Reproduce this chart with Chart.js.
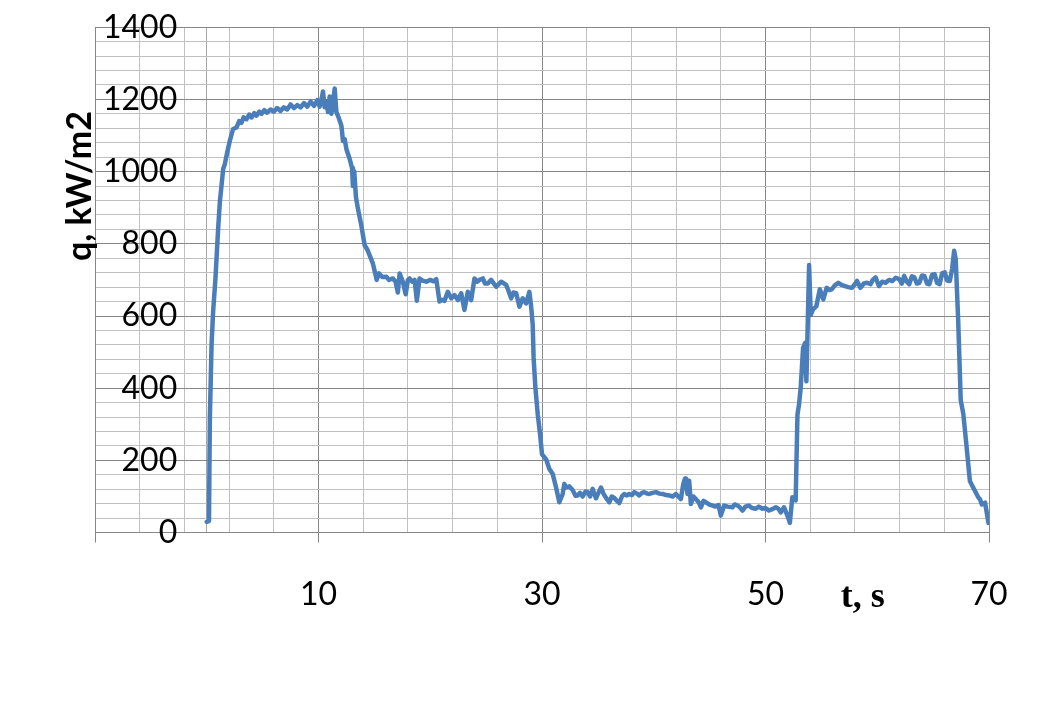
<!DOCTYPE html>
<html>
<head>
<meta charset="utf-8">
<script src="https://cdn.jsdelivr.net/npm/chart.js@4.4.1/dist/chart.umd.min.js"></script>
<style>
  html, body { margin: 0; padding: 0; background: #ffffff; }
</style>
</head>
<body>
<canvas id="myChart" width="1055" height="703"></canvas>
<script>
// t, s
var timeSec = [
  0, 0.2, 0.28, 0.43, 0.57, 0.78, 1.02, 1.17, 1.47, 1.62,
  1.83, 2.06, 2.36, 2.66, 2.9, 3.1, 3.3, 3.56, 3.8, 4.0,
  4.25, 4.45, 4.7, 4.9, 5.15, 5.4, 5.7, 6.0, 6.3, 6.6,
  6.9, 7.2, 7.5, 7.8, 8.1, 8.4, 8.7, 9.0, 9.3, 9.6,
  9.9, 10.1, 10.3, 10.4, 10.55, 10.7, 10.85, 11.0, 11.15, 11.3,
  11.45, 11.6, 11.8, 12.05, 12.19, 12.34, 12.5, 12.79, 13.0, 13.08,
  13.2, 13.35, 13.53, 13.83, 14.13, 14.35, 14.58, 14.87, 15.1, 15.2,
  15.4, 15.7, 16.07, 16.3, 16.66, 16.9, 17.1, 17.26, 17.55, 17.8,
  18.0, 18.15, 18.4, 18.6, 18.8, 19.04, 19.3, 19.64, 20.0, 20.3,
  20.54, 20.83, 21.05, 21.28, 21.57, 21.88, 22.17, 22.47, 22.77, 23.06,
  23.36, 23.66, 23.96, 24.2, 24.4, 24.7, 24.9, 25.15, 25.45, 25.9,
  26.35, 26.79, 27.0, 27.24, 27.45, 27.69, 27.98, 28.27, 28.58, 28.87,
  29.03, 29.17, 29.25, 29.41, 29.62, 29.83, 30.0, 30.37, 30.66, 30.96,
  31.26, 31.55, 31.85, 32.0, 32.15, 32.45, 32.74, 33.0, 33.19, 33.4,
  33.64, 33.9, 34.08, 34.3, 34.53, 34.83, 35.05, 35.28, 35.5, 35.73,
  36.02, 36.25, 36.47, 36.7, 36.92, 37.15, 37.36, 37.6, 37.81, 38.05,
  38.26, 38.5, 38.7, 38.95, 39.15, 39.4, 39.6, 39.9, 40.2, 40.5,
  40.79, 41.1, 41.39, 41.7, 41.98, 42.2, 42.43, 42.64, 42.8, 42.88,
  43.02, 43.17, 43.32, 43.55, 43.77, 44.0, 44.22, 44.45, 44.67, 44.95,
  45.26, 45.5, 45.8, 46.0, 46.3, 46.6, 47.04, 47.25, 47.49, 47.7,
  47.94, 48.2, 48.5, 48.8, 49.13, 49.4, 49.73, 50.0, 50.32, 50.6,
  50.92, 51.15, 51.37, 51.66, 51.96, 52.18, 52.4, 52.7, 52.86, 53.0,
  53.15, 53.36, 53.54, 53.66, 53.9, 54.05, 54.25, 54.55, 54.86, 55.17,
  55.47, 55.7, 55.92, 56.2, 56.52, 56.8, 57.12, 57.4, 57.73, 58.0,
  58.19, 58.49, 58.8, 59.09, 59.4, 59.6, 59.85, 60.15, 60.45, 60.75,
  61.05, 61.36, 61.65, 61.96, 62.2, 62.41, 62.65, 62.86, 63.1, 63.32,
  63.55, 63.77, 64.0, 64.22, 64.45, 64.67, 64.9, 65.13, 65.35, 65.58,
  65.8, 66.04, 66.25, 66.49, 66.7, 66.88, 67.02, 67.24, 67.47, 67.7,
  68.0, 68.29, 68.5, 68.75, 69.05, 69.2, 69.36, 69.65, 69.95
];

// q, kW/m2
var heatFlux = [
  30, 32, 320, 520, 612, 704, 842, 915, 1007, 1021,
  1053, 1085, 1118, 1122, 1140, 1135, 1150, 1145, 1158, 1150,
  1162, 1155, 1166, 1160, 1170, 1163, 1172, 1166, 1176, 1168,
  1178, 1172, 1186, 1176, 1184, 1178, 1190, 1180, 1194, 1182,
  1198, 1180, 1205, 1222, 1178, 1195, 1165, 1208, 1160, 1190,
  1230, 1165, 1150, 1127, 1085, 1090, 1062, 1035, 1010, 960,
  1000, 930, 897, 851, 796, 785, 768, 745, 715, 700,
  718, 708, 709, 700, 704, 695, 665, 718, 695, 660,
  700, 704, 695, 700, 642, 704, 698, 695, 700, 696,
  702, 640, 645, 642, 667, 649, 658, 644, 663, 617,
  667, 644, 704, 695, 700, 704, 690, 690, 700, 681,
  695, 686, 670, 649, 665, 663, 626, 649, 635, 667,
  626, 575, 484, 401, 327, 272, 217, 203, 176, 162,
  125, 84, 107, 135, 125, 128, 118, 102, 103, 110,
  100, 114, 112, 100, 121, 95, 110, 125, 108, 96,
  84, 100, 96, 88, 82, 100, 107, 103, 107, 104,
  112, 108, 103, 110, 112, 108, 107, 110, 112, 108,
  107, 104, 103, 100, 107, 100, 93, 134, 150, 148,
  107, 144, 79, 100, 93, 85, 70, 88, 84, 78,
  75, 72, 76, 47, 75, 72, 70, 78, 75, 70,
  61, 72, 75, 68, 66, 72, 66, 68, 61, 65,
  70, 66, 56, 70, 47, 27, 98, 89, 327, 355,
  401, 511, 525, 419, 741, 603, 618, 627, 674, 646,
  678, 672, 674, 685, 692, 686, 683, 680, 678, 688,
  697, 678, 690, 692, 688, 700, 707, 683, 695, 692,
  700, 697, 706, 702, 690, 711, 695, 688, 710, 707,
  690, 692, 712, 711, 690, 688, 714, 716, 692, 688,
  718, 721, 698, 697, 730, 781, 758, 590, 367, 329,
  236, 143, 130, 115, 97, 92, 78, 83, 27
];

var xLabelTicks = [10, 30, 50, 70];
var yLabelTicks = [0, 200, 400, 600, 800, 1000, 1200, 1400];
var yTitle = 'q, kW/m2';
var xTitle = 't, s';

var points = timeSec.map(function (t, i) { return { x: t, y: heatFlux[i] }; });

// x grid: every 4 s from -10, plus the line at t = 0
var xGrid = [];
for (var v = -10; v <= 70; v += 4) xGrid.push(v);
xGrid.push(0);
xGrid.sort(function (a, b) { return a - b; });

var axisText = {
  id: 'axisText',
  afterDraw: function (chart) {
    var c = chart.ctx;
    var a = chart.chartArea;
    var sx = chart.scales.x, sy = chart.scales.y;
    c.save();
    c.fillStyle = '#000000';
    c.font = 'bold 34px Lato';
    c.textAlign = 'center';
    c.textBaseline = 'middle';
    c.translate(a.left - 15, sy.getPixelForValue(960));
    c.rotate(-Math.PI / 2);
    c.fillText(yTitle, 0, 0);
    c.restore();

    c.save();
    c.fillStyle = '#000000';
    c.font = 'bold 36px "Liberation Serif"';
    c.textAlign = 'center';
    c.textBaseline = 'alphabetic';
    c.fillText(xTitle, sx.getPixelForValue(58.7), 607);
    c.restore();
  }
};

Chart.defaults.font.family = 'Lato';

var ctx = document.getElementById('myChart').getContext('2d');
var myChart = new Chart(ctx, {
  type: 'scatter',
  data: {
    datasets: [{
      data: points,
      showLine: true,
      borderColor: '#4a7ebb',
      backgroundColor: '#4a7ebb',
      borderWidth: 4.5,
      pointRadius: 0,
      tension: 0,
      borderJoinStyle: 'round',
      borderCapStyle: 'round'
    }]
  },
  options: {
    responsive: false,
    animation: false,
    layout: {
      padding: { left: 79, right: 66, top: 27, bottom: 56 }
    },
    plugins: {
      legend: { display: false },
      tooltip: { enabled: false }
    },
    scales: {
      x: {
        type: 'linear',
        min: -10,
        max: 70,
        afterBuildTicks: function (scale) {
          scale.ticks = xGrid.map(function (v) { return { value: v }; });
        },
        ticks: {
          autoSkip: false,
          maxRotation: 0,
          padding: 33,
          color: '#000000',
          font: { size: 32 },
          callback: function (v) { return xLabelTicks.indexOf(v) >= 0 ? String(v) : ''; }
        },
        grid: {
          tickLength: 10,
          color: function (c) {
            var v = c.tick ? c.tick.value : null;
            if (xLabelTicks.indexOf(v) >= 0 || v === -10) return '#868686';
            if (v === 0) return '#a6a6a6';
            return '#c0c0c0';
          },
          tickColor: function (c) {
            var v = c.tick ? c.tick.value : null;
            return (xLabelTicks.indexOf(v) >= 0 || v === -10) ? '#868686' : 'rgba(0,0,0,0)';
          }
        },
        border: { color: '#868686' }
      },
      y: {
        min: 0,
        max: 1400,
        ticks: {
          stepSize: 40,
          autoSkip: false,
          mirror: true,
          crossAlign: 'far',
          padding: 8,
          color: '#000000',
          font: { size: 32 },
          callback: function (v) { return yLabelTicks.indexOf(v) >= 0 ? String(v) : ''; }
        },
        grid: {
          drawTicks: false,
          color: function (c) {
            var v = c.tick ? c.tick.value : null;
            return (v !== null && v % 200 === 0) ? '#868686' : '#c0c0c0';
          }
        },
        border: { color: '#868686' }
      }
    }
  },
  plugins: [axisText]
});
</script>
</body>
</html>
